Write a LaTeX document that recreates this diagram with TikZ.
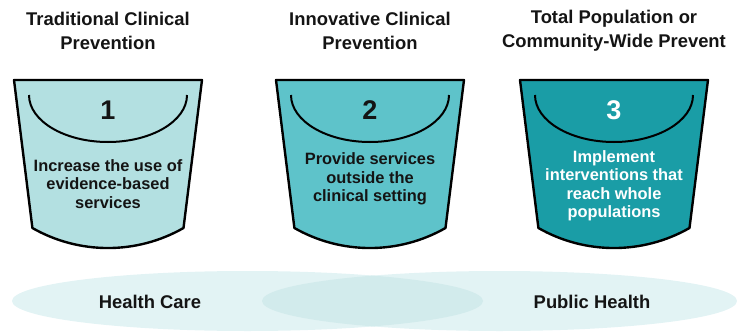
\documentclass[tikz,border=0pt]{standalone}
\usepackage{fontspec}
\setmainfont{Liberation Sans}
\definecolor{lightcol}{RGB}{179,224,225}
\definecolor{midcol}{RGB}{94,195,202}
\definecolor{darkcol}{RGB}{26,157,166}
\definecolor{bgcol}{RGB}{226,243,244}
\definecolor{overlapcol}{RGB}{210,235,236}
\definecolor{inkcol}{RGB}{20,20,20}

\tikzset{
  headtext/.style={inner sep=0pt, align=center, text=inkcol,
    font=\fontsize{18.4}{24}\selectfont\bfseries},
  numtext/.style={inner sep=0pt, font=\fontsize{27}{30}\selectfont\bfseries},
  bodytext/.style={inner sep=0pt, align=center,
    font=\fontsize{16.4}{18.5}\selectfont\bfseries},
  rim/.style={line width=2.4pt, line join=round},
  bowl/.style={line width=2pt}
}

\begin{document}
\begin{tikzpicture}[x=1pt, y=1pt]
    \useasboundingbox (0,0) rectangle (742,333);

    % Two overlapping fields at the base
    \fill[bgcol] (247.5,32) ellipse [x radius=235.5, y radius=30];
    \fill[bgcol] (499.5,32) ellipse [x radius=237.5, y radius=30];
    \begin{scope}
        \clip (247.5,32) ellipse [x radius=235.5, y radius=30];
        \fill[overlapcol] (499.5,32) ellipse [x radius=237.5, y radius=30];
    \end{scope}
    \node[headtext] (care) at (150,31) {Health Care};
    \node[headtext] (public) at (592,31) {Public Health};

    % Bucket 1
    \begin{scope}[shift={(108,0)}]
        \draw[rim, fill=lightcol] (-94,253) -- (94,253) -- (75.5,105)
            arc[start angle=-60.3, end angle=-119.7, radius=152.5] -- cycle;
        \draw[bowl] (-79,238) arc[start angle=180, end angle=360, x radius=79, y radius=47];
        \node[headtext] (head1) at (0,302) {Traditional Clinical\\Prevention};
        \node[numtext, text=inkcol] (num1) at (0,223) {1};
        \node[bodytext, text=inkcol] (body1) at (0,149) {Increase the use of\\evidence-based\\services};
    \end{scope}

    % Bucket 2
    \begin{scope}[shift={(370,0)}]
        \draw[rim, fill=midcol] (-94,253) -- (94,253) -- (75.5,105)
            arc[start angle=-60.3, end angle=-119.7, radius=152.5] -- cycle;
        \draw[bowl] (-79,238) arc[start angle=180, end angle=360, x radius=79, y radius=47];
        \node[headtext] (head2) at (0,302) {Innovative Clinical\\Prevention};
        \node[numtext, text=inkcol] (num2) at (0,223) {2};
        \node[bodytext, text=inkcol] (body2) at (0,154) {Provide services\\outside the\\clinical setting};
    \end{scope}

    % Bucket 3
    \begin{scope}[shift={(614,0)}]
        \draw[rim, fill=darkcol] (-94,253) -- (94,253) -- (75.5,105)
            arc[start angle=-60.3, end angle=-119.7, radius=152.5] -- cycle;
        \draw[bowl] (-79,238) arc[start angle=180, end angle=360, x radius=79, y radius=47];
        \node[headtext] (head3) at (0,302) {Total Population or\\Community-Wide Prevent};
        \node[numtext, text=white] (num3) at (0,223) {3};
        \node[bodytext, text=white] (body3) at (0,147) {Implement\\interventions that\\reach whole\\populations};
    \end{scope}

\end{tikzpicture}
\end{document}
